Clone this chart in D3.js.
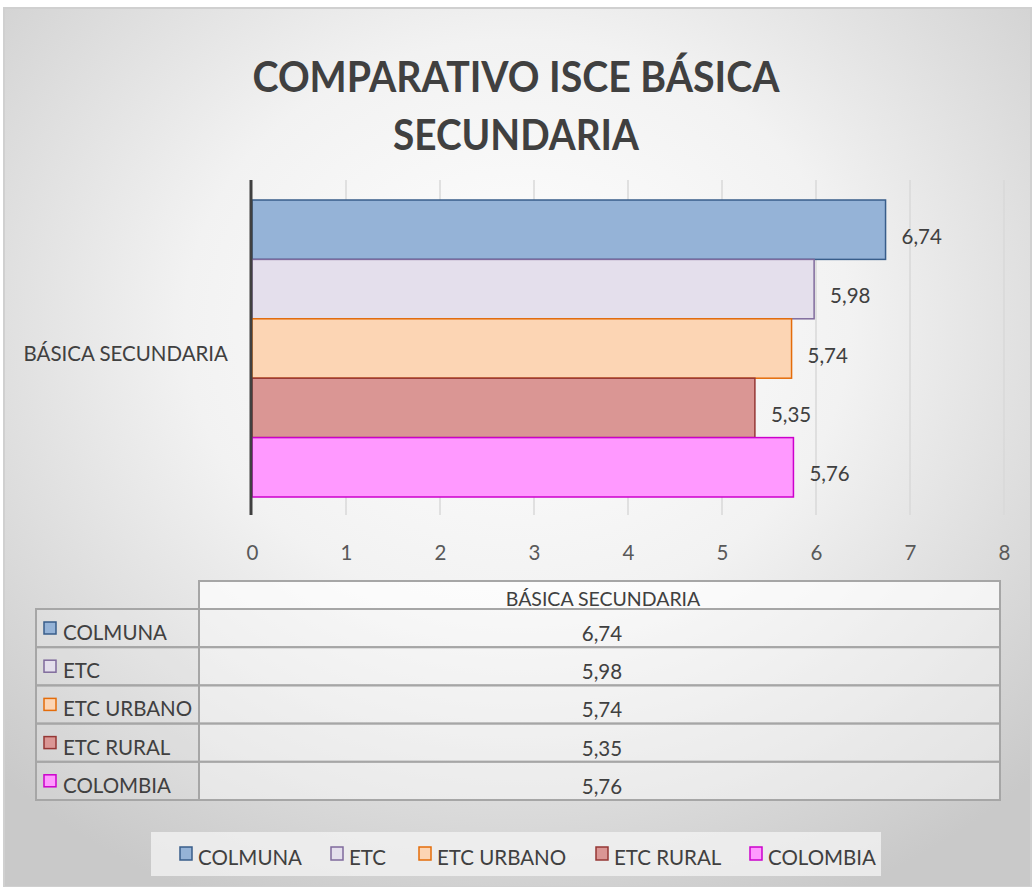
<!DOCTYPE html>
<html>
<head>
<meta charset="utf-8">
<script src="https://cdn.jsdelivr.net/npm/d3@7"></script>
<style>
  body { margin: 0; background: #fff; }
  svg text { font-family: "Lato", "Open Sans", sans-serif; }
</style>
</head>
<body>
<div class="demoWrapper"></div>
<script>
"use strict";

var category = "BÁSICA SECUNDARIA";
var seriesNames = ["COLMUNA", "ETC", "ETC URBANO", "ETC RURAL", "COLOMBIA"];
var seriesValues = [6.74, 5.98, 5.74, 5.35, 5.76];
var valueLabels = ["6,74", "5,98", "5,74", "5,35", "5,76"];
var tickValues = [0, 1, 2, 3, 4, 5, 6, 7, 8];
var titleLines = ["COMPARATIVO ISCE BÁSICA", "SECUNDARIA"];

var fills = ["#95B3D7", "#E4DFEC", "#FCD5B4", "#DA9694", "#FF99FF"];
var strokes = ["#385D8A", "#7F6A9C", "#E46C0A", "#953735", "#CC00CC"];

var width = 1033;
var height = 887;
var plotTop = 180;
var plotBottom = 515;
var fontSize = "20.5px";

var svg = d3.select(".demoWrapper").append("svg")
  .attr("width", width).attr("height", height);

var defs = svg.append("defs");
var grad = defs.append("radialGradient").attr("id", "bg")
  .attr("cx", "50%").attr("cy", "36%").attr("r", "72%");
grad.append("stop").attr("offset", "0%").attr("stop-color", "#ffffff");
grad.append("stop").attr("offset", "45%").attr("stop-color", "#f2f2f2");
grad.append("stop").attr("offset", "100%").attr("stop-color", "#c9c9c9");

svg.append("rect").attr("x", 4).attr("y", 8).attr("width", width - 6).attr("height", height - 8)
  .attr("fill", "url(#bg)").attr("stroke", "#d0d0d0").attr("stroke-width", 2);

// title (Calibri-like: narrower glyphs, so squeeze to measured width)
var titleWidths = [527, 246];
svg.selectAll(".title").data(titleLines).enter().append("text")
  .attr("class", "title")
  .attr("x", 516).attr("y", function (d, i) { return 92 + i * 58; })
  .attr("text-anchor", "middle")
  .attr("textLength", function (d, i) { return titleWidths[i]; })
  .attr("lengthAdjust", "spacingAndGlyphs")
  .style("font-size", "42px").style("font-weight", "bold").style("fill", "#404040")
  .text(function (d) { return d; });

var x = d3.scaleLinear().domain([0, 8]).range([252, 1004]);
var y = d3.scaleBand().domain(seriesNames).range([200, 497]);

// gridlines
svg.append("g").selectAll("line").data(tickValues.slice(1)).enter().append("line")
  .attr("x1", function (d) { return x(d); }).attr("x2", function (d) { return x(d); })
  .attr("y1", plotTop).attr("y2", plotBottom)
  .attr("stroke", "#d9d9d9").attr("stroke-width", 1.5);

// bars
svg.append("g").selectAll("rect").data(seriesValues).enter().append("rect")
  .attr("x", x(0))
  .attr("y", function (d, i) { return y(seriesNames[i]); })
  .attr("width", function (d) { return x(d) - x(0); })
  .attr("height", y.bandwidth())
  .attr("fill", function (d, i) { return fills[i]; })
  .attr("stroke", function (d, i) { return strokes[i]; })
  .attr("stroke-width", 1.5);

svg.append("g").selectAll("text").data(seriesValues).enter().append("text")
  .attr("x", function (d) { return x(d) + 16; })
  .attr("y", function (d, i) { return y(seriesNames[i]) + y.bandwidth() / 2 + 7; })
  .attr("dy", "0.35em")
  .style("font-size", fontSize).style("fill", "#404040")
  .text(function (d, i) { return valueLabels[i]; });

// vertical axis line
svg.append("line").attr("x1", x(0) - 1).attr("x2", x(0) - 1)
  .attr("y1", plotTop).attr("y2", plotBottom)
  .attr("stroke", "#404040").attr("stroke-width", 3);

svg.append("text").attr("x", 228).attr("y", 361)
  .attr("text-anchor", "end")
  .style("font-size", fontSize).style("fill", "#404040")
  .text(category);

// x axis
var xAxis = d3.axisBottom(x).tickValues(tickValues).tickSize(0).tickPadding(0);
var gX = svg.append("g").attr("transform", "translate(0,545)").call(xAxis);
gX.select(".domain").remove();
gX.selectAll("text").style("font-size", fontSize).style("fill", "#595959")
  .style("font-family", "Lato, sans-serif");

// data table
var tableLeft = 36, colSplit = 199, tableRight = 1000;
var headTop = 581, headBottom = 609, rowH = 38.2;
var table = svg.append("g");
table.append("rect").attr("x", colSplit).attr("y", headTop)
  .attr("width", tableRight - colSplit).attr("height", headBottom - headTop)
  .attr("fill", "#ffffff").attr("fill-opacity", 0.7)
  .attr("stroke", "#a6a6a6").attr("stroke-width", 2);
table.append("text").attr("x", 603).attr("y", 606)
  .attr("text-anchor", "middle")
  .style("font-size", "19.5px").style("fill", "#404040").text(category);

var rows = table.selectAll(".row").data(seriesNames).enter().append("g").attr("class", "row")
  .attr("transform", function (d, i) { return "translate(0," + (headBottom + i * rowH) + ")"; });
rows.append("rect").attr("x", tableLeft).attr("width", colSplit - tableLeft).attr("height", rowH)
  .attr("fill", "#ffffff").attr("fill-opacity", 0.15)
  .attr("stroke", "#a6a6a6").attr("stroke-width", 2);
rows.append("rect").attr("x", colSplit).attr("width", tableRight - colSplit).attr("height", rowH)
  .attr("fill", "#ffffff").attr("fill-opacity", 0.45)
  .attr("stroke", "#a6a6a6").attr("stroke-width", 2);
rows.append("rect").attr("x", 44).attr("y", 13).attr("width", 12).attr("height", 12)
  .attr("fill", function (d, i) { return fills[i]; })
  .attr("stroke", function (d, i) { return strokes[i]; }).attr("stroke-width", 1.5);
rows.append("text").attr("x", 63).attr("y", 31)
  .style("font-size", fontSize).style("fill", "#404040")
  .text(function (d) { return d; });
rows.append("text").attr("x", 602).attr("y", 32)
  .attr("text-anchor", "middle")
  .style("font-size", fontSize).style("fill", "#404040")
  .text(function (d, i) { return valueLabels[i]; });

// legend
svg.append("rect").attr("x", 151).attr("y", 832).attr("width", 730).attr("height", 44)
  .attr("fill", "#f4f4f4").attr("fill-opacity", 0.75);
var legendX = [179, 330, 418, 595, 749];
var legend = svg.selectAll(".legend").data(seriesNames).enter().append("g").attr("class", "legend")
  .attr("transform", function (d, i) { return "translate(" + legendX[i] + ",865)"; });
legend.append("rect").attr("x", 1).attr("y", -18).attr("width", 12).attr("height", 13)
  .attr("fill", function (d, i) { return fills[i]; })
  .attr("stroke", function (d, i) { return strokes[i]; }).attr("stroke-width", 1.5);
legend.append("text").attr("x", 19).attr("y", 0)
  .style("font-size", fontSize).style("fill", "#404040")
  .text(function (d) { return d; });
</script>
</body>
</html>
